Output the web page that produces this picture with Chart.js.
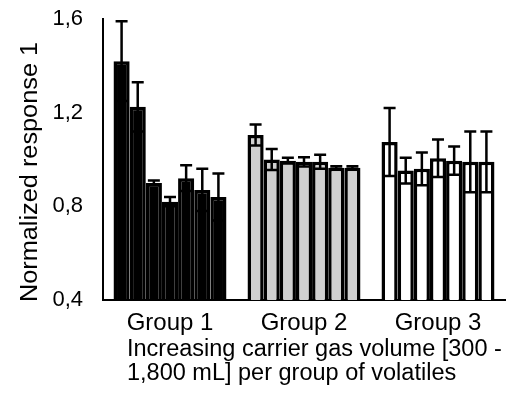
<!DOCTYPE html>
<html>
<head>
<meta charset="utf-8">
<script src="https://cdn.jsdelivr.net/npm/chart.js@4"></script>
<style>
  body { margin: 0; background: #fff; }
  #wrap { width: 515px; height: 400px; }
</style>
</head>
<body>
<div id="wrap"><canvas id="respuesta"></canvas></div>
<script>
const groups = ['Group 1', 'Group 2', 'Group 3'];
const group1Mean = [1.42, 1.225, 0.90, 0.82, 0.92, 0.87, 0.84];
const group1Err = [0.17, 0.105, 0.01, 0.02, 0.055, 0.09, 0.10];
const group2Mean = [1.105, 1.0, 0.995, 0.99, 0.99, 0.965, 0.965];
const group2Err = [0.045, 0.045, 0.012, 0.02, 0.03, 0.006, 0.006];
const group3Mean = [1.075, 0.953, 0.96, 1.005, 0.995, 0.99, 0.99];
const group3Err = [0.145, 0.055, 0.07, 0.08, 0.06, 0.13, 0.13];
const groupColors = ['#000000', '#d0d0d0', '#ffffff'];
const yTicks = [0.4, 0.8, 1.2, 1.6];
const yTitle = 'Normalized response 1';
const xTitle = ['Increasing carrier gas volume [300 -', '1,800 mL] per group of volatiles'];

document.addEventListener('DOMContentLoaded', function () {
    const ctx = document.getElementById('respuesta').getContext('2d');
    const means = [group1Mean, group2Mean, group3Mean];
    const errs = [group1Err, group2Err, group3Err];

    // one dataset per volume step, one value per group
    const datasets = group1Mean.map((_, i) => ({
        label: 'Step ' + (i + 1),
        data: means.map(g => g[i]),
        err: errs.map(g => g[i]),
        backgroundColor: groupColors,
        borderColor: '#000000',
        borderWidth: 3.5,
        borderSkipped: false
    }));

    const errorBars = {
        id: 'errorBars',
        afterDatasetsDraw(chart) {
            const c = chart.ctx;
            const y = chart.scales.y;
            c.save();
            c.strokeStyle = '#000';
            c.lineWidth = 2.5;
            chart.data.datasets.forEach((ds, i) => {
                chart.getDatasetMeta(i).data.forEach((bar, j) => {
                    const top = y.getPixelForValue(ds.data[j] + ds.err[j]);
                    const bot = y.getPixelForValue(ds.data[j] - ds.err[j]);
                    c.beginPath();
                    c.moveTo(bar.x, top);
                    c.lineTo(bar.x, bot);
                    c.moveTo(bar.x - 6, top);
                    c.lineTo(bar.x + 6, top);
                    c.moveTo(bar.x - 6, bot);
                    c.lineTo(bar.x + 6, bot);
                    c.stroke();
                });
            });
            c.restore();
        }
    };

    // axis titles placed like the original (x title left aligned)
    const axisTitles = {
        id: 'axisTitles',
        afterDraw(chart) {
            const c = chart.ctx;
            const area = chart.chartArea;
            c.save();
            c.fillStyle = '#000';
            c.textBaseline = 'alphabetic';
            c.textAlign = 'left';
            c.font = '23.5px "Liberation Sans", Arial, sans-serif';
            c.fillText(xTitle[0], area.left + 24, 356);
            c.fillText(xTitle[1], area.left + 24, 380);
            c.font = '23px "Liberation Sans", Arial, sans-serif';
            c.translate(37, 172);
            c.rotate(-Math.PI / 2);
            c.scale(1.1, 1);
            c.textAlign = 'center';
            c.fillText(yTitle, 0, 0);
            c.restore();
        }
    };

    new Chart(ctx, {
        type: 'bar',
        data: { labels: groups, datasets: datasets },
        options: {
            responsive: true,
            maintainAspectRatio: false,
            animation: false,
            layout: { padding: { top: 19, right: 10 } },
            datasets: {
                bar: { categoryPercentage: 0.843, barPercentage: 1 }
            },
            scales: {
                x: {
                    grid: { display: false, drawTicks: false },
                    border: { display: true, color: '#000', width: 2 },
                    ticks: {
                        color: '#000',
                        padding: 9,
                        maxRotation: 0,
                        font: { family: 'Liberation Sans', size: 24 }
                    },
                    afterFit: s => { s.height = 100; }
                },
                y: {
                    min: 0.4,
                    max: 1.6,
                    grid: { display: false, drawTicks: false },
                    border: { display: true, color: '#000', width: 2 },
                    afterBuildTicks: s => { s.ticks = yTicks.map(v => ({ value: v })); },
                    ticks: {
                        color: '#000',
                        padding: 20,
                        font: { family: 'Liberation Sans', size: 22 },
                        callback: v => v.toFixed(1).replace('.', ',')
                    },
                    afterFit: s => {
                        s.width = 103;
                        s.paddingTop = 0;
                        s.paddingBottom = 0;
                    }
                }
            },
            plugins: {
                legend: { display: false },
                tooltip: { enabled: false }
            }
        },
        plugins: [errorBars, axisTitles]
    });
});
</script>
</body>
</html>
